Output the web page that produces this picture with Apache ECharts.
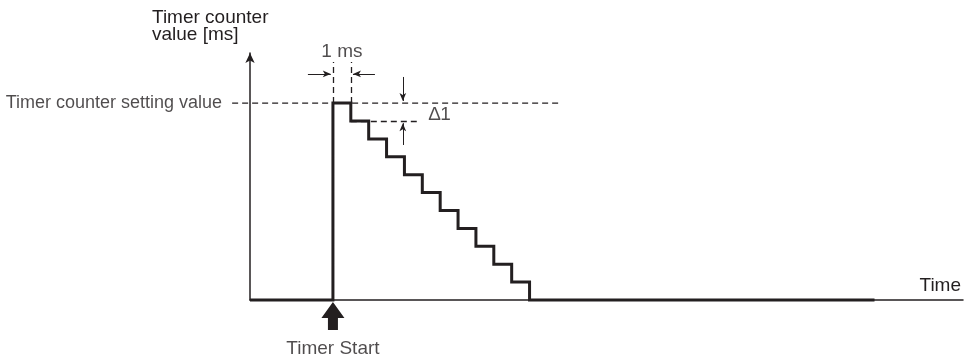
<!DOCTYPE html>
<html>
<head>
<meta charset="utf-8">
<script src="https://cdn.jsdelivr.net/npm/echarts@6/dist/echarts.min.js"></script>
<style>
  html, body { margin: 0; padding: 0; background: #fff; }
  #chart { width: 964px; height: 360px; }
</style>
</head>
<body>
<div id="chart"></div>
<script>
// time in ms (1 ms per step), counter value in steps of delta1
const xRange = [-4.64, 35.25];
const yRange = [0, 13.8];
const stepTimes = [0, 1, 2, 3, 4, 5, 6, 7, 8, 9, 10, 11];
const stepValues = [11, 10, 9, 8, 7, 6, 5, 4, 3, 2, 1, 0];
const traceEnd = 30.3;
const settingValue = 11;
const settingLine = [-5.64, 12.8];

// annotation marks (data coords)
const msGuideTop = 13.3;
const msArrowY = 12.63;
const msArrowFrom = [-1.4, 2.35];
const deltaX = 3.91;
const deltaArrowFrom = [12.46, 8.66];
const deltaGuideEnd = 4.69;
const textMarks = [
  {name: '1 ms', value: [0.5, 13.85]},
  {name: '\u22061', value: [5.98, 10.33]},
  {name: 'Timer Start', value: [0, -2.74]}
];
const startArrow = [0, -0.89];

const ink = '#231f20';
const font = "'Liberation Sans', Arial, sans-serif";
const fs = 19;

let myChart = echarts.init(document.getElementById('chart'));

// build step trace
let trace = [[xRange[0], 0]];
stepTimes.forEach((t, i) => trace.push([t, stepValues[i]]));
trace.push([traceEnd, 0]);

const dashed = {color: ink, width: 1.3, type: [6, 4]};
const solid = {color: ink, width: 1, type: 'solid'};

let option = {
    animation: false,
    textStyle: {fontFamily: font, color: ink},
    title: {
        text: 'Timer counter\nvalue [ms]',
        left: 147,
        top: 4,
        textStyle: {fontFamily: font, fontSize: fs, fontWeight: 'normal', color: ink, lineHeight: 17}
    },
    grid: {left: 250, right: 0, top: 53, bottom: 60},
    xAxis: {
        type: 'value',
        min: xRange[0],
        max: xRange[1],
        name: 'Time',
        nameLocation: 'end',
        nameGap: -2,
        nameTextStyle: {fontSize: fs, color: ink, align: 'right', verticalAlign: 'bottom', padding: [0, 0, 5, 0]},
        axisLine: {onZero: false, lineStyle: {color: ink, width: 1.5}},
        axisTick: {show: false},
        axisLabel: {show: false},
        splitLine: {show: false}
    },
    yAxis: {
        type: 'value',
        min: yRange[0],
        max: yRange[1],
        axisLine: {show: true, onZero: false, symbol: ['none', 'arrow'], symbolSize: [7, 10], lineStyle: {color: ink, width: 1.5}},
        axisTick: {show: false},
        axisLabel: {show: false},
        splitLine: {show: false}
    },
    series: [
        {
            name: 'setting',
            type: 'custom',
            silent: true,
            renderItem: function (params, api) {
                let a = api.coord([api.value(0), api.value(2)]);
                let b = api.coord([api.value(1), api.value(2)]);
                return {
                    type: 'line',
                    shape: {x1: a[0], y1: a[1], x2: b[0], y2: b[1]},
                    style: {stroke: ink, lineWidth: 1.3, lineDash: [6, 4]}
                };
            },
            data: [[settingLine[0], settingLine[1], settingValue]],
            z: 2
        },
        {
            name: 'counter',
            type: 'line',
            step: 'end',
            symbol: 'none',
            clip: false,
            lineStyle: {color: ink, width: 3, join: 'miter', cap: 'butt'},
            data: trace,
            z: 5
        },
        {
            name: 'guides',
            type: 'line',
            clip: false,
            symbol: 'none',
            data: [],
            markLine: {
                silent: true,
                symbol: ['none', 'arrow'],
                symbolSize: [5, 8],
                label: {show: false},
                lineStyle: solid,
                data: [
                    [{coord: [0, settingValue], symbol: 'none', lineStyle: dashed}, {coord: [0, msGuideTop], symbol: 'none'}],
                    [{coord: [1, settingValue], symbol: 'none', lineStyle: dashed}, {coord: [1, msGuideTop], symbol: 'none'}],
                    [{coord: [msArrowFrom[0], msArrowY]}, {coord: [-0.12, msArrowY]}],
                    [{coord: [msArrowFrom[1], msArrowY]}, {coord: [1.12, msArrowY]}],
                    [{coord: [deltaX, deltaArrowFrom[0]]}, {coord: [deltaX, settingValue + 0.12]}],
                    [{coord: [deltaX, deltaArrowFrom[1]]}, {coord: [deltaX, settingValue - 1 - 0.12]}],
                    [{coord: [1, settingValue - 1], symbol: 'none', lineStyle: dashed}, {coord: [deltaGuideEnd, settingValue - 1], symbol: 'none'}]
                ]
            }
        },
        {
            name: 'setting label',
            type: 'scatter',
            clip: false,
            symbolSize: 0,
            silent: true,
            label: {show: true, position: 'left', distance: 10, formatter: 'Timer counter setting value', fontSize: 18, color: ink},
            data: [[settingLine[0], settingValue]]
        },
        {
            name: 'texts',
            type: 'scatter',
            clip: false,
            symbolSize: 0,
            silent: true,
            label: {show: true, position: 'inside', formatter: '{b}', fontSize: fs, color: ink},
            data: textMarks
        },
        {
            name: 'start',
            type: 'scatter',
            clip: false,
            silent: true,
            symbol: 'path://M11.5,0 L23,16 L16.5,16 L16.5,28 L6.5,28 L6.5,16 L0,16 Z',
            symbolSize: [23, 28],
            itemStyle: {color: ink, opacity: 1},
            data: [startArrow]
        }
    ]
};

myChart.setOption(option);
</script>
</body>
</html>
